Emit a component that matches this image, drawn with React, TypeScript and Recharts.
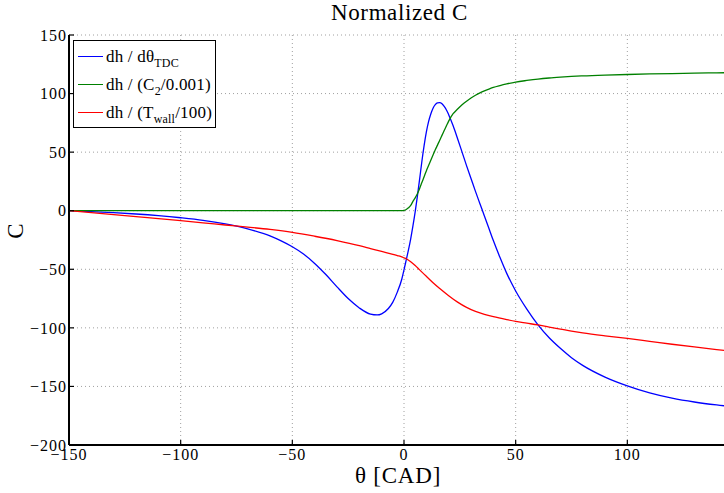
import React from "react";
import { CartesianGrid, Label, Legend, Line, LineChart, XAxis, YAxis } from "recharts";

const SERIF = '"Liberation Serif", "Times New Roman", serif';

const X_TICKS = [-150, -100, -50, 0, 50, 100, 150];
const Y_TICKS = [-200, -150, -100, -50, 0, 50, 100, 150];

// dh / dθ_TDC
const blueTheta = [
  -150, -140, -130, -120, -110, -100, -90, -80, -70, -60, -55, -50, -45, -40, -35, -30, -25, -20, -15,
  -12, -10, -7, -5, -3, -1, 0, 1, 2, 3, 4, 5, 6, 7, 8, 9, 10, 11, 12, 13, 14, 15, 16, 17, 18, 19, 20,
  22, 24, 26, 28, 30, 32, 34, 36, 38, 40, 43, 46, 50, 55, 60, 65, 70, 75, 80, 90, 100, 110, 120, 130,
  140, 150,
];
const blueC = [
  0, -0.8, -1.7, -2.8, -4.2, -6, -8.2, -11.3, -15.5, -21.5, -25.8, -30.8, -37, -45, -54.5, -65, -75,
  -83, -88.3, -89, -88, -83.5, -78, -69.5, -58.5, -50.5, -42, -33.5, -24, -13, -1, 12.5, 27, 42, 55.5,
  67, 76, 82.5, 87.5, 90.5, 92, 92.2, 91.3, 89, 86, 82, 72.5, 61.5, 50, 38.5, 27.5, 16.5, 6, -4.5,
  -15, -25.5, -40, -53.5, -68.5, -84, -97.5, -108.5, -117.5, -125.5, -132, -142, -149.5, -155.5, -160,
  -163.3, -165.8, -167.8,
];

// dh / (C2/0.001)
const greenTheta = [
  -150, -100, -50, -10, -2, -1, 0, 1, 2, 3, 4, 5, 6, 7, 8, 9, 10, 11, 12, 13, 14, 15, 16, 17, 18, 19,
  20, 22, 24, 26, 28, 30, 32, 34, 36, 38, 40, 43, 46, 50, 55, 60, 65, 70, 75, 80, 90, 100, 110, 120,
  130, 140, 150,
];
const greenC = [
  0, 0, 0, 0, 0, 0, 0.3, 1, 2.5, 4.5, 8, 11, 14.5, 19, 24, 29, 34, 38.5, 43, 47.5, 52, 56, 60.2, 64.3,
  68.4, 72.5, 76.5, 82.8, 86.8, 90.4, 93.5, 96.2, 98.6, 100.6, 102.3, 103.8, 105.2, 106.8, 108.2,
  109.8, 111.2, 112.4, 113.3, 114, 114.6, 115.1, 115.8, 116.3, 116.8, 117.1, 117.4, 117.7, 117.9,
];

// dh / (Twall/100)
const redTheta = [
  -150, -140, -130, -120, -110, -100, -90, -80, -70, -60, -50, -40, -30, -20, -15, -10, -5, -3, -1, 0,
  1, 3, 5, 7, 10, 13, 16, 20, 24, 28, 32, 36, 40, 46, 50, 55, 60, 65, 70, 75, 80, 90, 100, 110, 120,
  130, 140, 150,
];
const redC = [
  0, -1.7, -3.4, -5.1, -6.8, -8.5, -10.3, -12.2, -14, -16, -18.5, -21.8, -25.5, -29.8, -32.3, -34.8,
  -37.2, -38.3, -39.4, -40.2, -41, -43.5, -46.8, -50.5, -56, -61.5, -66.4, -72.5, -78, -82.5, -86,
  -88.5, -90.5, -93, -94.5, -96, -97.5, -99.3, -101, -102.8, -104.3, -106.8, -109, -111.5, -114,
  -116.3, -118.5, -120.7,
];

const toPoints = (xs: number[], ys: number[]) => xs.map((theta, i) => ({ theta, c: ys[i] }));

const SERIES = [
  { name: "blue", color: "#0000ff", data: toPoints(blueTheta, blueC), text: ["dh / dθ", "TDC", ""] },
  { name: "green", color: "#008000", data: toPoints(greenTheta, greenC), text: ["dh / (C", "2", "/0.001)"] },
  { name: "red", color: "#ff0000", data: toPoints(redTheta, redC), text: ["dh / (T", "wall", "/100)"] },
];

const fmt = (v: number) => String(v).replace("-", "\u2212");

const tickStyle = { fontFamily: SERIF, fontSize: 16, fill: "#000", style: { letterSpacing: "1px" } };

function LegendBox() {
  return (
    <div
      style={{
        border: "1.3px solid #000",
        background: "#fff",
        width: 143,
        height: 88,
        boxSizing: "border-box",
        fontFamily: SERIF,
        fontSize: 17,
        letterSpacing: "0.2px",
        color: "#000",
        paddingTop: 1,
      }}
    >
      {SERIES.map((s) => (
        <div key={s.name} style={{ height: 28, display: "flex", alignItems: "center" }}>
          <span
            style={{
              display: "inline-block",
              width: 25,
              borderTop: `1.3px solid ${s.color}`,
              marginLeft: 4,
              marginRight: 3,
            }}
          />
          <span style={{ lineHeight: 1, whiteSpace: "nowrap" }}>
            {s.text[0]}
            <sub style={{ fontSize: 12, verticalAlign: "-5px", lineHeight: 0 }}>{s.text[1]}</sub>
            {s.text[2]}
          </span>
        </div>
      ))}
    </div>
  );
}

function YLabel(props: any) {
  const vb = props.viewBox || { x: 9, y: 35, width: 60, height: 410 };
  const x = vb.x + 14;
  const y = vb.y + vb.height / 2 - 9;
  return (
    <text
      x={x}
      y={y}
      textAnchor="middle"
      transform={`rotate(-90, ${x}, ${y})`}
      fontFamily={SERIF}
      fontSize={23}
      fill="#000"
    >
      C
    </text>
  );
}

export default function App() {
  return (
    <div
      style={{
        position: "absolute",
        left: 0,
        top: 0,
        width: 724,
        height: 493,
        overflow: "hidden",
        background: "#fff",
      }}
    >
      <div
        style={{
          position: "absolute",
          left: 0,
          top: 1,
          width: 799,
          textAlign: "center",
          fontFamily: SERIF,
          fontSize: 23,
          lineHeight: "23px",
          letterSpacing: "0.6px",
          color: "#000",
        }}
      >
        Normalized C
      </div>
      <LineChart width={760} height={493} margin={{ top: 35, right: 21, bottom: 18, left: 9 }}>
        <CartesianGrid stroke="#a0a0a0" strokeDasharray="1 3" />
        <XAxis
          dataKey="theta"
          type="number"
          domain={[-150, 150]}
          ticks={X_TICKS}
          tickFormatter={fmt}
          height={30}
          tickSize={-5}
          tickMargin={9}
          tick={tickStyle}
          axisLine={{ stroke: "#000", strokeWidth: 2 }}
          tickLine={{ stroke: "#000", strokeWidth: 1.2 }}
        >
          <Label
            value="θ [CAD]"
            position="bottom"
            offset={-8}
            dx={-6}
            style={{ fontFamily: SERIF, fontSize: 23, fill: "#000", letterSpacing: "0.8px" }}
          />
        </XAxis>
        <XAxis
          xAxisId="top"
          orientation="top"
          type="number"
          domain={[-150, 150]}
          ticks={X_TICKS}
          height={0}
          tick={false}
          tickSize={-5}
          axisLine={{ stroke: "#000", strokeWidth: 1.5 }}
          tickLine={{ stroke: "#000", strokeWidth: 1.2 }}
        />
        <YAxis
          type="number"
          domain={[-200, 150]}
          ticks={Y_TICKS}
          tickFormatter={fmt}
          width={60}
          tickSize={-5}
          tickMargin={7}
          tick={tickStyle}
          axisLine={{ stroke: "#000", strokeWidth: 2 }}
          tickLine={{ stroke: "#000", strokeWidth: 1.2 }}
          label={<YLabel />}
        />
        <Legend
          layout="vertical"
          align="center"
          verticalAlign="middle"
          content={() => <LegendBox />}
          wrapperStyle={{ position: "absolute", left: 73, top: 40, width: 143, height: 88 }}
        />
        {SERIES.map((s) => (
          <Line
            key={s.name}
            data={s.data}
            dataKey="c"
            name={s.name}
            type="monotone"
            stroke={s.color}
            strokeWidth={1.3}
            dot={false}
            activeDot={false}
            isAnimationActive={false}
          />
        ))}
      </LineChart>
    </div>
  );
}
